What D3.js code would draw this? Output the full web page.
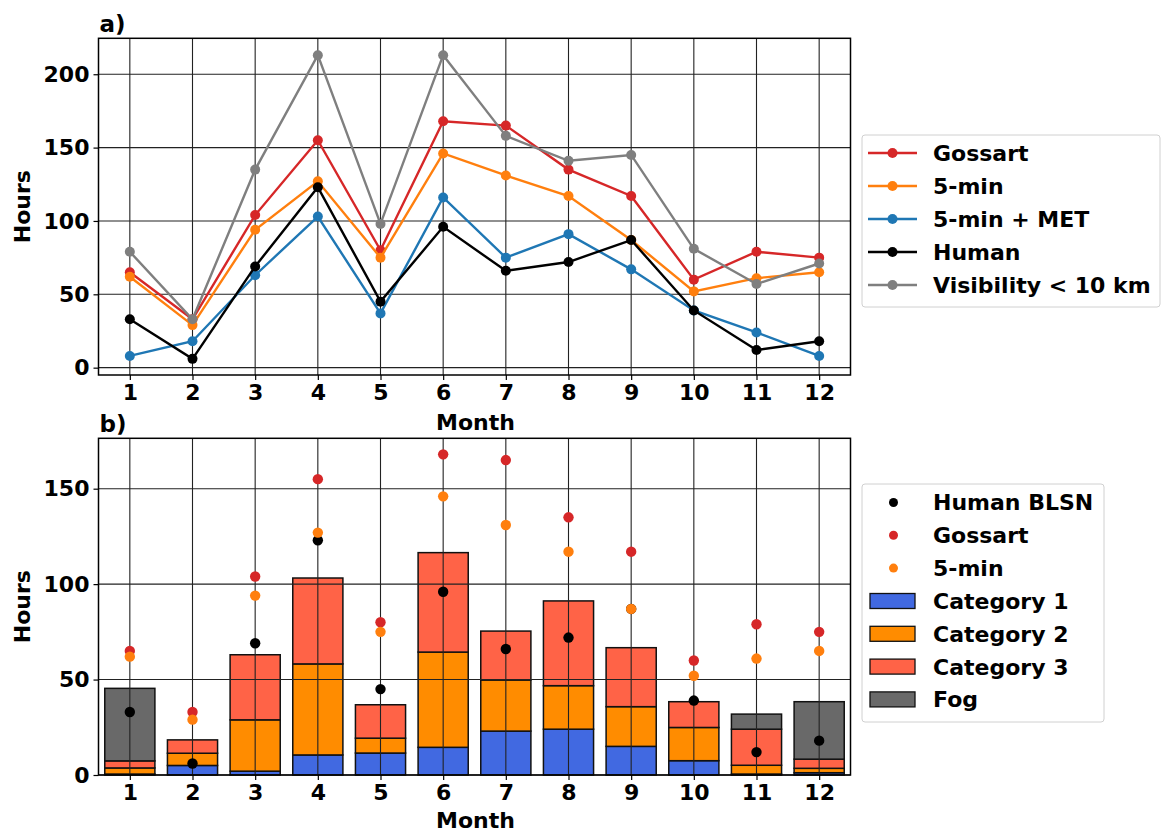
<!DOCTYPE html>
<html><head><meta charset="utf-8">
<script src="https://d3js.org/d3.v7.min.js"></script>
<style>body{margin:0;background:#fff}text{font-family:"DejaVu Sans",sans-serif;font-weight:bold}</style>
</head><body><svg id="c" width="1162" height="832"></svg>
<script>
const months = [1,2,3,4,5,6,7,8,9,10,11,12];
const gossart    = [65, 33, 104, 155, 80, 168, 165, 135, 117, 60, 79, 75];
const fiveMin    = [62, 29, 94, 127, 75, 146, 131, 117, 87, 52, 61, 65];
const fiveMinMet = [8, 18, 63, 103, 37, 116, 75, 91, 67, 39, 24, 8];
const human      = [33, 6, 69, 123, 45, 96, 66, 72, 87, 39, 12, 18];
const visibility = [79, 33, 135, 213, 98, 213, 158, 141, 145, 81, 57, 71];
const cat1 = [0.5, 5, 2, 10.5, 11.5, 14.5, 23, 24, 15, 7.5, 0.5, 1.2];
const cat2 = [3.2, 6.4, 26.9, 47.7, 7.8, 49.9, 26.8, 22.8, 20.8, 17.4, 4.6, 2.3];
const cat3 = [3.7, 7, 34.1, 45, 17.5, 52.1, 25.6, 44.4, 30.9, 13.5, 18.9, 4.8];
const fog  = [38, 0, 0, 0, 0, 0, 0, 0, 0, 0, 7.9, 30.1];
const yTicksA = [0, 50, 100, 150, 200];
const yTicksB = [0, 50, 100, 150];

const svg = d3.select("#c");
const FS = 22;
const L = 98.5, R = 850.5;
const x = d3.scaleLinear().domain([0.5, 12.5]).range([L, R]);

function frame(g, y, top, bottom, ticks) {
  g.append("g").selectAll("line").data(months).join("line")
    .attr("x1", d => x(d)).attr("x2", d => x(d)).attr("y1", top).attr("y2", bottom)
    .attr("stroke", "#222").attr("stroke-width", 1.1);
  g.append("g").selectAll("line").data(ticks).join("line")
    .attr("x1", L).attr("x2", R).attr("y1", d => y(d)).attr("y2", d => y(d))
    .attr("stroke", "#222").attr("stroke-width", 1.1);
}
function axes(g, y, top, bottom, ticks, tag, labY) {
  const xa = d3.axisBottom(x).tickValues(months).tickFormat(d3.format("d")).tickSize(5).tickPadding(4);
  const gx = g.append("g").attr("transform", `translate(0,${bottom})`).call(xa);
  const ya = d3.axisLeft(y).tickValues(ticks).tickSize(5).tickPadding(4);
  const gy = g.append("g").attr("transform", `translate(${L},0)`).call(ya);
  [gx, gy].forEach(a => {
    a.select(".domain").remove();
    a.selectAll("line").attr("stroke", "#000").attr("stroke-width", 1.2);
    a.selectAll("text").attr("font-size", FS).attr("font-family", "DejaVu Sans").attr("font-weight", "bold").attr("fill", "#000");
  });
  g.append("rect").attr("x", L).attr("y", top).attr("width", R - L).attr("height", bottom - top)
    .attr("fill", "none").attr("stroke", "#000").attr("stroke-width", 1.5);
  g.append("text").attr("x", (L + R) / 2 + 1).attr("y", labY).attr("text-anchor", "middle")
    .attr("font-size", FS).text("Month");
  g.append("text").attr("transform", `translate(30,${(top + bottom) / 2}) rotate(-90)`)
    .attr("text-anchor", "middle").attr("font-size", FS).text("Hours");
  g.append("text").attr("x", L + 1).attr("y", top - 6).attr("font-size", FS + 1).text(tag);
}
function legendBox(g, x0, y0, w, h) {
  g.append("rect").attr("x", x0).attr("y", y0).attr("width", w).attr("height", h)
    .attr("rx", 3).attr("fill", "#fff").attr("stroke", "#d0d0d0").attr("stroke-width", 1);
}

// ---------- Panel a ----------
const topA = 38.3, botA = 375;
const yA = d3.scaleLinear().domain([-5, 224.5]).range([botA, topA]);
const gA = svg.append("g");
frame(gA, yA, topA, botA, yTicksA);
const seriesA = [
  {name: "Gossart", vals: gossart, color: "#d62728"},
  {name: "5-min", vals: fiveMin, color: "#ff7f0e"},
  {name: "5-min + MET", vals: fiveMinMet, color: "#1f77b4"},
  {name: "Human", vals: human, color: "#000000"},
  {name: "Visibility < 10 km", vals: visibility, color: "#7f7f7f"}
];
const line = d3.line().x((d, i) => x(months[i])).y(d => yA(d));
seriesA.forEach(s => {
  gA.append("path").attr("d", line(s.vals)).attr("fill", "none").attr("stroke", s.color).attr("stroke-width", 2.4);
  gA.append("g").selectAll("circle").data(s.vals).join("circle")
    .attr("cx", (d, i) => x(months[i])).attr("cy", d => yA(d)).attr("r", 5).attr("fill", s.color);
});
axes(gA, yA, topA, botA, yTicksA, "a)", 430);
const lgA = svg.append("g");
legendBox(lgA, 862, 135, 298, 172);
seriesA.forEach((s, i) => {
  const yy = 153 + i * 33;
  lgA.append("line").attr("x1", 868).attr("x2", 917).attr("y1", yy).attr("y2", yy).attr("stroke", s.color).attr("stroke-width", 2.4);
  lgA.append("circle").attr("cx", 892.5).attr("cy", yy).attr("r", 5).attr("fill", s.color);
  lgA.append("text").attr("x", 933).attr("y", yy).attr("dy", "0.36em").attr("font-size", FS).text(s.name);
});

// ---------- Panel b ----------
const topB = 438.3, botB = 775;
const yB = d3.scaleLinear().domain([0, 176.4]).range([botB, topB]);
const gB = svg.append("g");
const stackData = months.map((m, i) => ({m, c1: cat1[i], c2: cat2[i], c3: cat3[i], fog: fog[i]}));
const keys = ["c1", "c2", "c3", "fog"];
const colors = {c1: "#4169e1", c2: "#ff8c00", c3: "#ff6347", fog: "#696969"};
const stacked = d3.stack().keys(keys)(stackData);
const bw = x(1.4) - x(0.6);
stacked.forEach(layer => {
  gB.append("g").selectAll("rect").data(layer.filter(d => d[1] - d[0] > 0)).join("rect")
    .attr("x", d => x(d.data.m) - bw / 2).attr("width", bw)
    .attr("y", d => yB(d[1])).attr("height", d => yB(d[0]) - yB(d[1]))
    .attr("fill", colors[layer.key]).attr("stroke", "#111").attr("stroke-width", 1.5);
});
frame(gB, yB, topB, botB, yTicksB);
const scatB = [
  {name: "Human BLSN", vals: human, color: "#000000"},
  {name: "Gossart", vals: gossart, color: "#d62728"},
  {name: "5-min", vals: fiveMin, color: "#ff7f0e"}
];
scatB.forEach(s => {
  gB.append("g").selectAll("circle").data(s.vals).join("circle")
    .attr("cx", (d, i) => x(months[i])).attr("cy", d => yB(d)).attr("r", 5.2).attr("fill", s.color);
});
axes(gB, yB, topB, botB, yTicksB, "b)", 828);
const lgB = svg.append("g");
legendBox(lgB, 862, 484, 242, 238);
scatB.forEach((s, i) => {
  const yy = 502.5 + i * 32.8;
  lgB.append("circle").attr("cx", 893.5).attr("cy", yy).attr("r", 4.5).attr("fill", s.color);
  lgB.append("text").attr("x", 933).attr("y", yy).attr("dy", "0.36em").attr("font-size", FS).text(s.name);
});
const patchNames = ["Category 1", "Category 2", "Category 3", "Fog"];
keys.forEach((k, i) => {
  const yy = 601 + i * 32.8;
  lgB.append("rect").attr("x", 870).attr("y", yy - 7.5).attr("width", 45).attr("height", 15)
    .attr("fill", colors[k]).attr("stroke", "#111").attr("stroke-width", 1.3);
  lgB.append("text").attr("x", 933).attr("y", yy).attr("dy", "0.36em").attr("font-size", FS).text(patchNames[i]);
});
</script></body></html>
